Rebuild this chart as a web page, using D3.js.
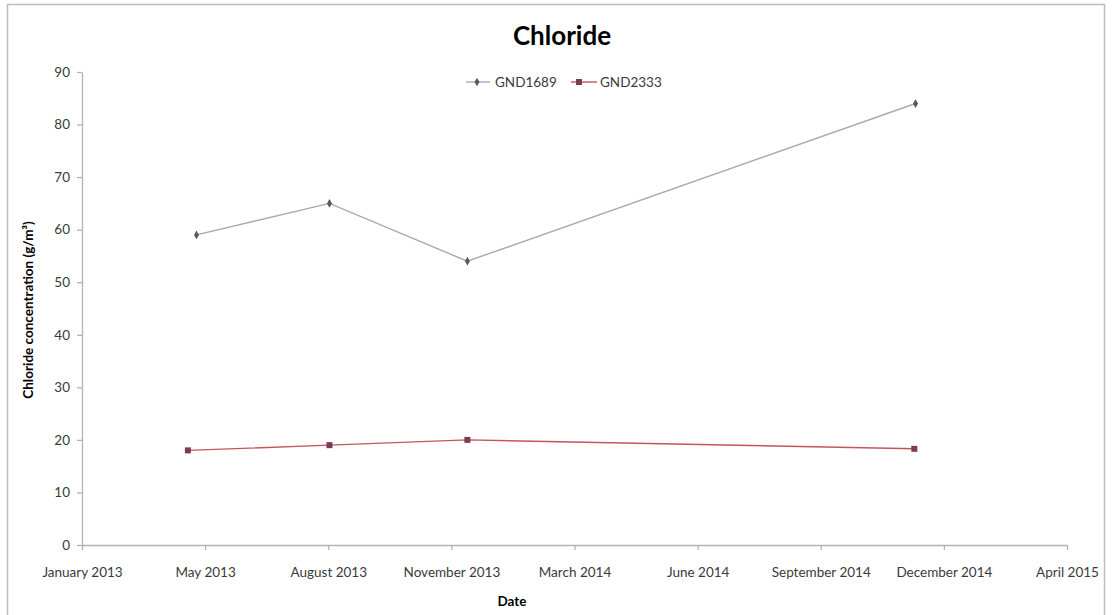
<!DOCTYPE html>
<html>
<head>
<meta charset="utf-8">
<script src="https://cdn.jsdelivr.net/npm/d3@7"></script>
<style>
  html, body { margin: 0; padding: 0; background: #fff; }
  svg { display: block; }
  text { font-family: Lato, "Open Sans", sans-serif; }
</style>
</head>
<body>
<svg id="chart" width="1112" height="615"></svg>
<script>
// ---- data ----
const chartTitle = "Chloride";
const xTitle = "Date";
const yTitle = "Chloride concentration (g/m³)";
const seriesNames = ["GND1689", "GND2333"];
const gnd1689Dates = ["2013-05-01", "2013-08-17", "2013-12-07", "2014-12-06"];
const gnd1689Values = [59, 65, 54, 84];
const gnd2333Dates = ["2013-04-24", "2013-08-17", "2013-12-07", "2014-12-05"];
const gnd2333Values = [18, 19, 20, 18.3];
const xTickDates = ["2013-01-28", "2013-05-08", "2013-08-16", "2013-11-24", "2014-03-04",
                    "2014-06-12", "2014-09-20", "2014-12-29", "2015-04-08"];
const xTickLabels = ["January 2013", "May 2013", "August 2013", "November 2013", "March 2014",
                     "June 2014", "September 2014", "December 2014", "April 2015"];
const yTicks = [0, 10, 20, 30, 40, 50, 60, 70, 80, 90];

// ---- layout ----
const svg = d3.select("#chart");
const parse = d3.utcParse("%Y-%m-%d");
const plot = { left: 82, right: 1067, top: 72, bottom: 545 };

const x = d3.scaleUtc()
  .domain([parse(xTickDates[0]), parse(xTickDates[xTickDates.length - 1])])
  .range([plot.left, plot.right]);
const y = d3.scaleLinear().domain([0, 90]).range([plot.bottom, plot.top]);

// chart frame
svg.append("rect").attr("x", 7.5).attr("y", 4.5).attr("width", 1097).attr("height", 640)
  .attr("fill", "none").attr("stroke", "#bdbdbd").attr("stroke-width", 1.5);

// title
svg.append("text").attr("x", 562).attr("y", 45).attr("text-anchor", "middle")
  .attr("font-size", 26).attr("font-weight", 700).attr("fill", "#000").text(chartTitle);

// axes
const axisColor = "#b3b3b3";
const labelColor = "#3a3a3a";
const fs = 13.5;

const xAxis = d3.axisBottom(x)
  .tickValues(xTickDates.map(parse))
  .tickFormat((d, i) => xTickLabels[i])
  .tickSize(5).tickSizeOuter(0);
const gx = svg.append("g").attr("transform", `translate(0,${plot.bottom})`).call(xAxis);
gx.select(".domain").attr("stroke", axisColor).attr("stroke-width", 1.3);
gx.selectAll(".tick line").attr("stroke", axisColor).attr("stroke-width", 1.3);
gx.selectAll(".tick text").attr("fill", labelColor).attr("font-size", fs)
  .attr("font-family", "Lato, sans-serif").attr("dy", 0).attr("y", 32);

const yAxis = d3.axisLeft(y).tickValues(yTicks).tickSize(5).tickSizeOuter(0);
const gy = svg.append("g").attr("transform", `translate(${plot.left},0)`).call(yAxis);
gy.select(".domain").attr("stroke", axisColor).attr("stroke-width", 1.3);
gy.selectAll(".tick line").attr("stroke", axisColor).attr("stroke-width", 1.3);
gy.selectAll(".tick text").attr("fill", labelColor).attr("font-size", fs)
  .attr("font-family", "Lato, sans-serif").attr("x", -12);

// axis titles
svg.append("text").attr("x", 512).attr("y", 606).attr("text-anchor", "middle")
  .attr("font-size", fs).attr("font-weight", 700).attr("fill", "#000").text(xTitle);
svg.append("text").attr("transform", "translate(33,310) rotate(-90)").attr("text-anchor", "middle")
  .attr("font-size", fs).attr("font-weight", 700).attr("fill", "#000").text(yTitle);

// series
const line = d3.line().x(d => x(d.date)).y(d => y(d.value));
const s1 = gnd1689Dates.map((d, i) => ({ date: parse(d), value: gnd1689Values[i] }));
const s2 = gnd2333Dates.map((d, i) => ({ date: parse(d), value: gnd2333Values[i] }));

const c1line = "#a9a9a9", c1mark = "#5a5a5a";
const c2line = "#c4555e", c2mark = "#7d3a50";

svg.append("path").datum(s1).attr("d", line).attr("fill", "none")
  .attr("stroke", c1line).attr("stroke-width", 1.4);
svg.append("path").datum(s2).attr("d", line).attr("fill", "none")
  .attr("stroke", c2line).attr("stroke-width", 1.4);

const diamond = d3.symbol().type(d3.symbolDiamond).size(22);
svg.append("g").selectAll("path").data(s1).join("path")
  .attr("transform", d => `translate(${x(d.date)},${y(d.value)})`)
  .attr("d", diamond).attr("fill", c1mark);
svg.append("g").selectAll("rect").data(s2).join("rect")
  .attr("x", d => x(d.date) - 3).attr("y", d => y(d.value) - 3)
  .attr("width", 6).attr("height", 6).attr("fill", c2mark);

// legend
const legendY = 82;
const lg = svg.append("g");
lg.append("line").attr("x1", 466).attr("x2", 490).attr("y1", legendY).attr("y2", legendY)
  .attr("stroke", c1line).attr("stroke-width", 1.4);
lg.append("path").attr("transform", `translate(477,${legendY})`).attr("d", diamond).attr("fill", c1mark);
lg.append("text").attr("x", 495).attr("y", legendY + 4.5).attr("font-size", fs)
  .attr("fill", labelColor).text(seriesNames[0]);
lg.append("line").attr("x1", 571).attr("x2", 597).attr("y1", legendY).attr("y2", legendY)
  .attr("stroke", c2line).attr("stroke-width", 1.4);
lg.append("rect").attr("x", 576).attr("y", legendY - 3).attr("width", 6).attr("height", 6).attr("fill", c2mark);
lg.append("text").attr("x", 600).attr("y", legendY + 4.5).attr("font-size", fs)
  .attr("fill", labelColor).text(seriesNames[1]);
</script>
</body>
</html>
